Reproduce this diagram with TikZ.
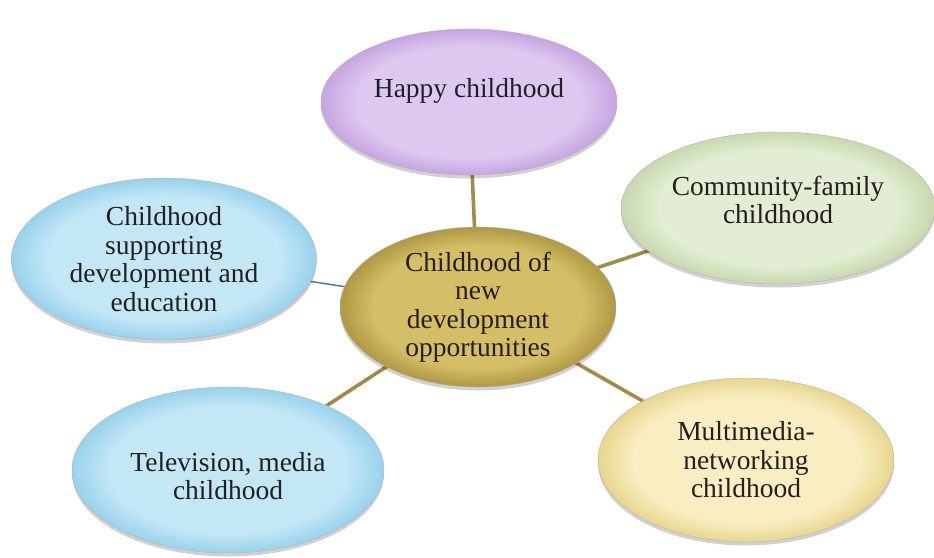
\documentclass[tikz,border=0pt]{standalone}
\usepackage{fontspec}
\setmainfont{Liberation Serif}
\usetikzlibrary{shapes.geometric,shadows,backgrounds}

\definecolor{linkgold}{HTML}{A08C48}
\definecolor{linkblue}{HTML}{3F72A8}
\definecolor{txt}{HTML}{231F20}

\definecolor{lilacIn}{HTML}{DDC9EF}
\definecolor{lilacOut}{HTML}{C7A4E2}
\definecolor{sageIn}{HTML}{E2EDD3}
\definecolor{sageOut}{HTML}{C8D8AE}
\definecolor{skyIn}{HTML}{C4E7F6}
\definecolor{skyOut}{HTML}{98D2EC}
\definecolor{goldIn}{HTML}{D4BE66}
\definecolor{goldOut}{HTML}{B09844}
\definecolor{creamIn}{HTML}{F9EEC2}
\definecolor{creamOut}{HTML}{E8D68E}

% flat centre with a darker rim
\pgfdeclareradialshading{lilacsh}{\pgfpoint{0bp}{0bp}}{color(0bp)=(lilacIn); color(19bp)=(lilacIn); color(25bp)=(lilacOut); color(50bp)=(lilacOut)}
\pgfdeclareradialshading{sagesh}{\pgfpoint{0bp}{0bp}}{color(0bp)=(sageIn); color(19bp)=(sageIn); color(25bp)=(sageOut); color(50bp)=(sageOut)}
\pgfdeclareradialshading{skysh}{\pgfpoint{0bp}{0bp}}{color(0bp)=(skyIn); color(19bp)=(skyIn); color(25bp)=(skyOut); color(50bp)=(skyOut)}
\pgfdeclareradialshading{goldsh}{\pgfpoint{0bp}{0bp}}{color(0bp)=(goldIn); color(19bp)=(goldIn); color(25bp)=(goldOut); color(50bp)=(goldOut)}
\pgfdeclareradialshading{creamsh}{\pgfpoint{0bp}{0bp}}{color(0bp)=(creamIn); color(19bp)=(creamIn); color(25bp)=(creamOut); color(50bp)=(creamOut)}

\tikzset{
  bubble/.style={ellipse, inner sep=0pt, align=center, text=txt,
    font=\fontsize{27.5}{28.5}\selectfont,
    draw=black!30, line width=0.4pt,
    drop shadow={shadow xshift=0pt, shadow yshift=-3.5pt, opacity=0.18, fill=black}},
  lilac/.style={bubble, shade, shading=lilacsh},
  sage/.style={bubble, shade, shading=sagesh},
  sky/.style={bubble, shade, shading=skysh},
  gold/.style={bubble, shade, shading=goldsh},
  cream/.style={bubble, shade, shading=creamsh},
  link/.style={draw=linkgold, line width=3.6pt},
  bluelink/.style={draw=linkblue, line width=1.4pt}
}

\begin{document}
\begin{tikzpicture}[x=1pt, y=-1pt]
  \useasboundingbox (0,0) rectangle (934,557);

  % hub
  \node[gold, minimum width=276pt, minimum height=160pt] (hub) at (478,307)
    {Childhood of\\new\\development\\opportunities};

  % surrounding themes
  \node[lilac, minimum width=296pt, minimum height=146pt] (happy) at (469,102)
    {Happy childhood\\[-0pt]\vphantom{x}};
  \node[sage, minimum width=314pt, minimum height=152pt] (family) at (778,208)
    {Community-family\\childhood\\[-12pt]\vphantom{x}};
  \node[sky, minimum width=305pt, minimum height=162pt] (educ) at (164,259)
    {Childhood\\supporting\\development and\\education};
  \node[sky, minimum width=312pt, minimum height=166pt] (media) at (228,470)
    {\vphantom{x}\\[-10pt]Television, media\\childhood};
  \node[cream, minimum width=296pt, minimum height=164pt] (net) at (746,460)
    {Multimedia-\\networking\\childhood};

  % connectors behind the bubbles
  \begin{scope}[on background layer]
    \draw[link] (hub.center) -- (happy.center);
    \draw[link] (hub.center) -- (family.center);
    \draw[link] (hub.center) -- (media.center);
    \draw[link] (hub.center) -- (net.center);
    \draw[bluelink] (hub.center) -- (educ.center);
  \end{scope}
\end{tikzpicture}
\end{document}
